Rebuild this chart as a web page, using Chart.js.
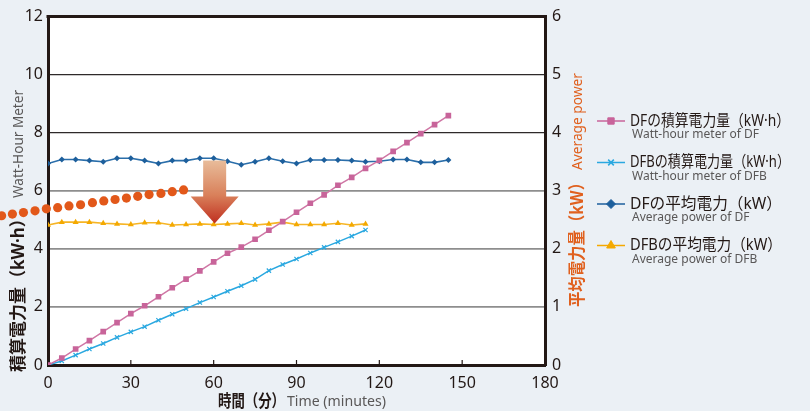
<!DOCTYPE html>
<html>
<head>
<meta charset="utf-8">
<script src="https://cdn.jsdelivr.net/npm/chart.js@4.4.1/dist/chart.umd.min.js"></script>
<style>
  html, body { margin: 0; padding: 0; background: #ebf0f5; }
  #wrap { width: 810px; height: 411px; position: relative; }
</style>
</head>
<body>
<div id="wrap"><canvas id="powerChart"></canvas></div>
<script>
// time axis (minutes)
const timeDF  = [0,5,10,15,20,25,30,35,40,45,50,55,60,65,70,75,80,85,90,95,100,105,110,115,120,125,130,135,140,145];
const timeDFB = [0,5,10,15,20,25,30,35,40,45,50,55,60,65,70,75,80,85,90,95,100,105,110,115];

// cumulative energy (kW·h), left axis
const dfEnergy  = [0,0.24,0.55,0.84,1.15,1.46,1.77,2.04,2.35,2.66,2.96,3.24,3.55,3.85,4.06,4.33,4.64,4.94,5.26,5.57,5.86,6.19,6.46,6.77,7.05,7.36,7.66,7.97,8.28,8.59];
const dfbEnergy = [0,0.14,0.34,0.55,0.74,0.95,1.14,1.32,1.54,1.75,1.94,2.15,2.34,2.54,2.73,2.95,3.25,3.46,3.65,3.86,4.05,4.24,4.44,4.65];

// average power (kW), right axis
const dfPower  = [3.47,3.54,3.54,3.52,3.50,3.56,3.56,3.52,3.47,3.52,3.52,3.56,3.56,3.51,3.45,3.50,3.56,3.51,3.47,3.53,3.53,3.53,3.52,3.50,3.51,3.54,3.54,3.49,3.49,3.53];
const dfbPower = [2.41,2.46,2.46,2.46,2.44,2.43,2.42,2.45,2.45,2.41,2.42,2.43,2.42,2.43,2.44,2.41,2.43,2.46,2.42,2.42,2.42,2.44,2.41,2.43];

// decorative orange dotted curve (minutes, left axis value)
const dotTime  = [-16.8,-12.9,-8.9,-4.7,-0.6,3.5,7.6,11.8,16.1,20.2,24.3,28.4,32.5,36.6,40.9,45.0,49.1];
const dotValue = [5.14,5.20,5.25,5.31,5.38,5.42,5.48,5.52,5.59,5.65,5.70,5.75,5.81,5.87,5.91,5.97,6.03];

const xTicks = [0,30,60,90,120,150,180];

const legendItems = [
  { main: 'DFの積算電力量（kW·h）', sub: 'Watt-hour meter of DF', color: '#c8649a', style: 'rect', radius: 4.5 },
  { main: 'DFBの積算電力量（kW·h）', sub: 'Watt-hour meter of DFB', color: '#2aa8e0', style: 'crossRot', radius: 4 },
  { main: 'DFの平均電力（kW）', sub: 'Average power of DF', color: '#1d5f9c', style: 'rectRot', radius: 4.5 },
  { main: 'DFBの平均電力（kW）', sub: 'Average power of DFB', color: '#f4a900', style: 'triangle', radius: 5 }
];

const FONT = '"Noto Sans", "Noto Sans CJK JP", sans-serif';
const DARK = '#231815';
const ORANGE = '#e0601e';

function pts(xs, ys) {
  return xs.map((x, i) => ({ x: x, y: ys[i] }));
}

function drawText(ctx, s, x, y, font, color, maxW) {
  ctx.font = font;
  ctx.fillStyle = color;
  ctx.textAlign = 'left';
  ctx.textBaseline = 'middle';
  const w = ctx.measureText(s).width;
  if (maxW && w > maxW) ctx.fillText(s, x, y, maxW);
  else ctx.fillText(s, x, y);
}

const framePlugin = {
  id: 'frame',
  beforeDraw(chart) {
    const { ctx, chartArea: a } = chart;
    ctx.save();
    ctx.fillStyle = '#ffffff';
    ctx.fillRect(a.left, a.top, a.right - a.left, a.bottom - a.top);
    ctx.restore();
  },
  afterDatasetsDraw(chart) {
    const { ctx, chartArea: a, scales } = chart;
    ctx.save();
    // x tick marks pointing up inside the plot
    ctx.strokeStyle = DARK;
    ctx.lineWidth = 1.2;
    xTicks.slice(1, -1).forEach(v => {
      const px = scales.x.getPixelForValue(v);
      ctx.beginPath();
      ctx.moveTo(px, a.bottom);
      ctx.lineTo(px, a.bottom - 5);
      ctx.stroke();
    });
    // top border
    ctx.lineWidth = 3;
    ctx.beginPath();
    ctx.moveTo(a.left - 1.5, a.top);
    ctx.lineTo(a.right + 1.5, a.top);
    ctx.stroke();

    // orange dotted curve, runs past the left axis
    ctx.fillStyle = '#e2581a';
    dotTime.forEach((t, i) => {
      ctx.beginPath();
      ctx.arc(scales.x.getPixelForValue(t), scales.y.getPixelForValue(dotValue[i]), 4.6, 0, Math.PI * 2);
      ctx.fill();
    });

    // arrow pointing down at 60 minutes
    const cx = scales.x.getPixelForValue(60) + 1;
    const yTop = scales.y.getPixelForValue(7.04);
    const yHead = scales.y.getPixelForValue(5.8);
    const yTip = scales.y.getPixelForValue(4.87);
    const grad = ctx.createLinearGradient(0, yTop, 0, yTip);
    grad.addColorStop(0, '#e8bc9a');
    grad.addColorStop(0.55, '#d9805a');
    grad.addColorStop(1, '#bf2e1f');
    ctx.fillStyle = grad;
    ctx.beginPath();
    ctx.moveTo(cx - 11.5, yTop);
    ctx.lineTo(cx + 11.5, yTop);
    ctx.lineTo(cx + 11.5, yHead);
    ctx.lineTo(cx + 24, yHead);
    ctx.lineTo(cx, yTip);
    ctx.lineTo(cx - 24, yHead);
    ctx.lineTo(cx - 11.5, yHead);
    ctx.closePath();
    ctx.fill();
    ctx.restore();
  },
  afterDraw(chart) {
    const { ctx } = chart;
    ctx.save();
    // left axis title
    ctx.translate(19, 372);
    ctx.rotate(-Math.PI / 2);
    drawText(ctx, '積算電力量（kW·h）', 0, 0, 'bold 17px ' + FONT, DARK, 166);
    drawText(ctx, 'Watt-Hour Meter', 174, 0, '14px ' + FONT, '#595757', 108);
    ctx.restore();

    ctx.save();
    // right axis title
    ctx.translate(578, 307);
    ctx.rotate(-Math.PI / 2);
    drawText(ctx, '平均電力量（kW）', 0, 0, 'bold 17px ' + FONT, ORANGE, 132);
    drawText(ctx, 'Average power', 137, 0, '15px ' + FONT, ORANGE, 97);
    ctx.restore();

    ctx.save();
    // x axis title
    drawText(ctx, '時間（分）', 218, 402, 'bold 17px ' + FONT, DARK, 67);
    drawText(ctx, 'Time (minutes)', 287, 402, '15px ' + FONT, '#595757', 99);

    // legend
    legendItems.forEach((it, i) => {
      const y = 121 + i * 41.5;
      ctx.strokeStyle = it.color;
      ctx.lineWidth = 1.5;
      ctx.beginPath();
      ctx.moveTo(597, y);
      ctx.lineTo(625, y);
      ctx.stroke();
      ctx.fillStyle = it.color;
      ctx.lineWidth = it.style === 'crossRot' ? 1.6 : 1;
      Chart.helpers.drawPoint(ctx, { pointStyle: it.style, radius: it.radius, rotation: 0, borderWidth: 1 }, 611, y);
      drawText(ctx, it.main, 630, y, '16px ' + FONT, DARK, it.main.length > 13 ? 160 : 152);
      drawText(ctx, it.sub, 632, y + 14, '12px ' + FONT, '#595757');
    });
    ctx.restore();
  }
};

new Chart(document.getElementById('powerChart'), {
  type: 'line',
  data: {
    datasets: [
      {
        label: 'DF積算',
        data: pts(timeDF, dfEnergy),
        yAxisID: 'y',
        borderColor: '#cf77a5',
        backgroundColor: '#c8649a',
        borderWidth: 1.5,
        pointStyle: 'rect',
        pointRadius: 4,
        pointBorderWidth: 0
      },
      {
        label: 'DFB積算',
        data: pts(timeDFB, dfbEnergy),
        yAxisID: 'y',
        borderColor: '#2aa8e0',
        backgroundColor: '#2aa8e0',
        borderWidth: 1.5,
        pointStyle: 'crossRot',
        pointRadius: 3,
        pointBorderWidth: 1.2
      },
      {
        label: 'DF平均',
        data: pts(timeDF, dfPower),
        yAxisID: 'y1',
        borderColor: '#2a6eaa',
        backgroundColor: '#1d5f9c',
        borderWidth: 1.6,
        pointStyle: 'rectRot',
        pointRadius: 3,
        pointBorderWidth: 0
      },
      {
        label: 'DFB平均',
        data: pts(timeDFB, dfbPower),
        yAxisID: 'y1',
        borderColor: '#f6b526',
        backgroundColor: '#f4a900',
        borderWidth: 1.6,
        pointStyle: 'triangle',
        pointRadius: 3.5,
        pointBorderWidth: 0
      }
    ]
  },
  options: {
    responsive: true,
    maintainAspectRatio: false,
    animation: false,
    layout: { padding: { top: 14, left: 0, right: 0, bottom: 0 } },
    plugins: {
      legend: { display: false },
      tooltip: { enabled: false }
    },
    elements: { line: { tension: 0 } },
    scales: {
      x: {
        type: 'linear',
        min: 0,
        max: 180,
        afterBuildTicks: s => { s.ticks = xTicks.map(v => ({ value: v })); },
        afterFit: s => { s.height = 46; },
        grid: { display: false, drawTicks: false },
        border: { color: DARK, width: 3 },
        ticks: { color: DARK, padding: 9, font: { family: FONT, size: 16 } }
      },
      y: {
        position: 'left',
        min: 0,
        max: 12,
        afterFit: s => { s.width = 48; },
        grid: {
          drawTicks: false,
          color: c => (c.tick && c.tick.value >= 8) ? '#2e2a2a' : '#8e8e8e',
          lineWidth: c => (c.tick && c.tick.value >= 8) ? 1.3 : 1.8
        },
        border: { color: DARK, width: 3 },
        ticks: { stepSize: 2, color: DARK, padding: 5, font: { family: FONT, size: 16 } }
      },
      y1: {
        position: 'right',
        min: 0,
        max: 6,
        afterFit: s => { s.width = 265; },
        grid: { display: false, drawTicks: false },
        border: { color: DARK, width: 3 },
        ticks: { stepSize: 1, color: DARK, padding: 7, font: { family: FONT, size: 16 } }
      }
    }
  },
  plugins: [framePlugin]
});
</script>
</body>
</html>
